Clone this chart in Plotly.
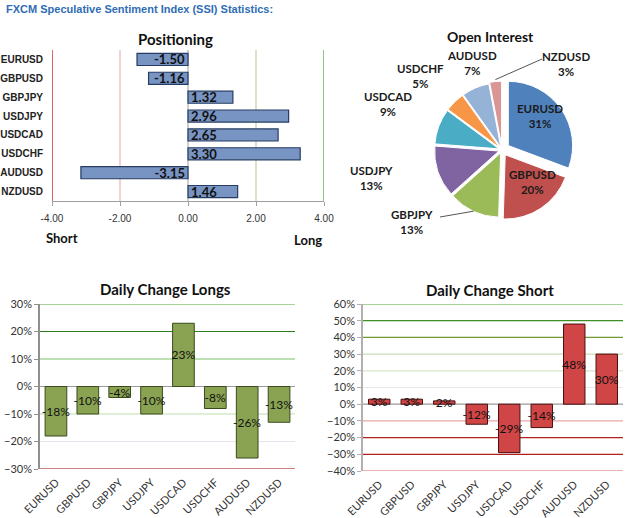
import math
import plotly.graph_objects as go

pairs = ["EURUSD", "GBPUSD", "GBPJPY", "USDJPY", "USDCAD", "USDCHF", "AUDUSD", "NZDUSD"]
positioning = [-1.50, -1.16, 1.32, 2.96, 2.65, 3.30, -3.15, 1.46]
open_interest = [31, 20, 13, 13, 9, 5, 7, 3]
daily_longs = [-18, -10, -4, -10, 23, -8, -26, -13]
daily_short = [3, 3, 2, -12, -29, -14, 48, 30]
pos_ticks = [-4, -2, 0, 2, 4]
pie_colors = ["#4F81BD", "#C0504D", "#9BBB59", "#8064A2", "#4BACC6", "#F79646", "#95B3D7", "#D99694"]
pie_pull = [0.12, 0.09, 0.05, 0.05, 0.05, 0.05, 0.05, 0.07]

W, H = 625, 518
def px(x): return x / W
def py(y): return 1 - y / H

FONT = "Lato"
fig = go.Figure()

# Positioning
fig.add_trace(go.Bar(
    x=positioning, y=pairs, orientation="h", xaxis="x", yaxis="y",
    width=0.64,
    marker=dict(color="#7894C2", line=dict(color="#263C63", width=1.2)),
    text=[f"{v:.2f}" for v in positioning], textposition="inside", textangle=0,
    insidetextanchor="start", constraintext="none",
    textfont=dict(family=FONT, size=13, color="#111111", weight="bold"),
    showlegend=False, hoverinfo="skip"))

# Open interest pie
PIE_CX, PIE_CY, PIE_HALF = 502, 150, 72
fig.add_trace(go.Pie(
    labels=pairs, values=open_interest, sort=False, direction="clockwise", rotation=0,
    marker=dict(colors=pie_colors, line=dict(color="white", width=1)),
    pull=pie_pull, textinfo="none",
    domain=dict(x=[px(PIE_CX - PIE_HALF), px(PIE_CX + PIE_HALF)],
                y=[py(PIE_CY + PIE_HALF), py(PIE_CY - PIE_HALF)]),
    showlegend=False, hoverinfo="skip"))

# Daily change longs
fig.add_trace(go.Bar(
    x=pairs, y=daily_longs, xaxis="x3", yaxis="y3", width=0.68,
    marker=dict(color="#8AA352", line=dict(color="#3A4A1C", width=1)),
    text=[f"{v}%" for v in daily_longs], textposition="inside", textangle=0,
    insidetextanchor="middle", constraintext="none",
    textfont=dict(family=FONT, size=12, color="#111111"),
    showlegend=False, hoverinfo="skip"))

# Daily change short
fig.add_trace(go.Bar(
    x=pairs, y=daily_short, xaxis="x4", yaxis="y4", width=0.66,
    marker=dict(color="#D04545", line=dict(color="#4A1010", width=1)),
    text=[f"{v}%" for v in daily_short], textposition="inside", textangle=0,
    insidetextanchor="middle", constraintext="none",
    textfont=dict(family=FONT, size=12, color="#111111"),
    showlegend=False, hoverinfo="skip"))

tickfont = dict(family=FONT, size=11, color="#333333")

shapes = []
for xv, col in [(-4, "#C00000"), (-2, "#E8B4B4"), (2, "#B7D3A4"), (4, "#3FA02A")]:
    shapes.append(dict(type="line", xref="x", yref="y domain", x0=xv, x1=xv, y0=0, y1=1,
                       line=dict(color=col, width=1.2), layer="below"))
shapes.append(dict(type="line", xref="x", yref="y domain", x0=0, x1=0, y0=0, y1=1,
                   line=dict(color="#A0A0A0", width=1), layer="below"))

long_grid = {30: "#4EA72E", 20: "#2E7D1E", 10: "#7DBF6A", 0: "#9A9A9A",
             -10: "#BFDDB0", -20: "#E4E4EC", -30: "#A00000"}
for yv, col in long_grid.items():
    shapes.append(dict(type="line", xref="x3 domain", yref="y3", x0=0, x1=1, y0=yv, y1=yv,
                       line=dict(color=col, width=1.2), layer="below"))
short_grid = {60: "#4EA72E", 50: "#3E8E26", 40: "#6E9A2E", 30: "#C8DEB8", 20: "#D6E6CC",
              10: "#E8E8E8", 0: "#9A9A9A", -10: "#E8A8A8", -20: "#B02020",
              -30: "#B02020", -40: "#D06060"}
for yv, col in short_grid.items():
    shapes.append(dict(type="line", xref="x4 domain", yref="y4", x0=0, x1=1, y0=yv, y1=yv,
                       line=dict(color=col, width=1.2), layer="below"))

# pie labels (layout positions for each slice label, in pixels)
pie_label_pos = {
    "EURUSD": (540, 116), "GBPUSD": (532, 182), "GBPJPY": (412, 222), "USDJPY": (372, 178),
    "USDCAD": (388, 104), "USDCHF": (420, 76), "AUDUSD": (472, 63), "NZDUSD": (566, 64),
}
annotations = []
for name, val in zip(pairs, open_interest):
    lx, lyy = pie_label_pos[name]
    annotations.append(dict(text=f"{name}<br>{val}%", x=px(lx), y=py(lyy), xref="paper",
                            yref="paper", xanchor="center", yanchor="middle", showarrow=False,
                            font=dict(family=FONT, size=11.5, color="#1a1a1a", weight="bold")))

# leader lines for NZDUSD and GBPJPY, pointing at slice middle
total = sum(open_interest)
cum = 0
mids = {}
for name, val in zip(pairs, open_interest):
    mids[name] = (cum + val / 2) / total * 2 * math.pi
    cum += val
R = PIE_HALF / (1 + max(pie_pull))
for name, (sx, sy), rr in [("NZDUSD", (542, 59), 1.1), ("GBPJPY", (440, 217), 1.05)]:
    a = mids[name]
    ex = PIE_CX + rr * R * math.sin(a)
    ey = PIE_CY - rr * R * math.cos(a)
    shapes.append(dict(type="line", xref="paper", yref="paper", x0=px(sx), y0=py(sy),
                       x1=px(ex), y1=py(ey), line=dict(color="#555555", width=1)))

annotations += [
    dict(text="FXCM Speculative Sentiment Index (SSI) Statistics:", x=px(4), y=py(9),
         xref="paper", yref="paper", xanchor="left", yanchor="middle", showarrow=False,
         font=dict(family="Liberation Sans", size=11, color="#2F6DB5", weight="bold")),
    dict(text="Positioning", x=px(175), y=py(39), xref="paper", yref="paper",
         xanchor="center", yanchor="middle",
         showarrow=False, font=dict(family=FONT, size=15, color="#111111", weight="bold")),
    dict(text="Open Interest", x=px(490), y=py(37), xref="paper", yref="paper",
         xanchor="center", yanchor="middle",
         showarrow=False, font=dict(family=FONT, size=14, color="#111111", weight="bold")),
    dict(text="Daily Change Longs", x=px(165), y=py(289), xref="paper", yref="paper",
         xanchor="center", yanchor="middle",
         showarrow=False, font=dict(family=FONT, size=15, color="#111111", weight="bold")),
    dict(text="Daily Change Short", x=px(490), y=py(290), xref="paper", yref="paper",
         xanchor="center", yanchor="middle",
         showarrow=False, font=dict(family=FONT, size=15, color="#111111", weight="bold")),
    dict(text="Short", x=px(44), y=py(238), xref="paper", yref="paper", xanchor="left",
         yanchor="middle",
         showarrow=False, font=dict(family=FONT, size=13, color="#111111", weight="bold")),
    dict(text="Long", x=px(292), y=py(240), xref="paper", yref="paper", xanchor="left",
         yanchor="middle",
         showarrow=False, font=dict(family=FONT, size=13, color="#111111", weight="bold")),
]

fig.update_layout(
    width=W, height=H, margin=dict(l=0, r=0, t=0, b=0, autoexpand=False),
    paper_bgcolor="white", plot_bgcolor="white",
    font=dict(family=FONT, color="#222222"),
    shapes=shapes, annotations=annotations,
    xaxis=dict(domain=[px(52), px(324)], anchor="y", range=[-4, 4], tickvals=pos_ticks,
               ticktext=[f"{v:.2f}" for v in pos_ticks], showgrid=False, zeroline=False,
               showline=True, linecolor="#A0A0A0", ticks="outside", ticklen=4, tickcolor="#A0A0A0",
               tickfont=dict(family="Liberation Sans", size=10, color="#333333"),
               ticklabelstandoff=4, automargin=False),
    yaxis=dict(domain=[py(201), py(50)], anchor="x", autorange="reversed", showgrid=False,
               zeroline=False, showline=False, ticks="",
               tickfont=dict(family="Liberation Sans", size=10, color="#222222", weight="bold"),
               ticklabelstandoff=8, automargin=False),
    xaxis3=dict(domain=[px(40), px(295)], anchor="y3", showgrid=False, zeroline=False,
                showline=False, ticks="", tickangle=-45, tickfont=tickfont, ticklabelstandoff=4,
                automargin=False),
    yaxis3=dict(domain=[py(469), py(304)], anchor="x3", range=[-30, 30], dtick=10,
                ticksuffix="%", showgrid=False, zeroline=False, showline=True,
                linecolor="#909090", linewidth=1.5, ticks="outside", ticklen=4, tickcolor="#909090",
                tickfont=tickfont, automargin=False),
    xaxis4=dict(domain=[px(363), px(623)], anchor="y4", showgrid=False, zeroline=False,
                showline=False, ticks="", tickangle=-45, tickfont=tickfont, ticklabelstandoff=4,
                automargin=False),
    yaxis4=dict(domain=[py(471), py(304)], anchor="x4", range=[-40, 60], dtick=10,
                ticksuffix="%", showgrid=False, zeroline=False, showline=True,
                linecolor="#B0B0B0", linewidth=1.5, ticks="outside", ticklen=4, tickcolor="#B0B0B0",
                tickfont=tickfont, automargin=False),
)

fig.write_html("out.html")
